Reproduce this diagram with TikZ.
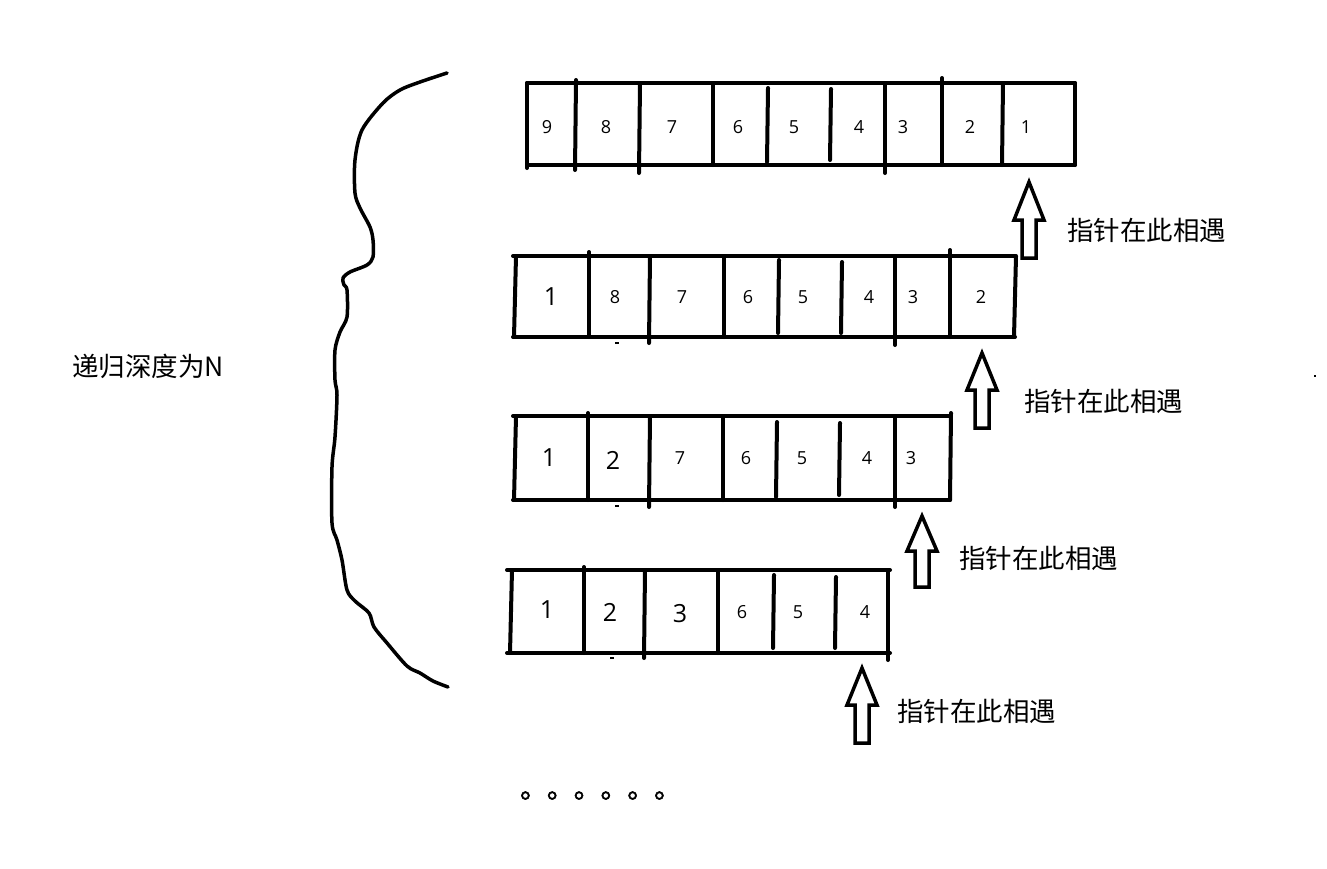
\documentclass[tikz,border=0pt]{standalone}
\usepackage{fontspec}
\newfontfamily\cjk{Noto Sans CJK SC}
\newfontfamily\cjkbold[FakeBold=2]{Noto Sans CJK SC}
\newfontfamily\digitfont{Open Sans}
\begin{document}
\begin{tikzpicture}[x=1pt,y=-1pt,
  bar/.style={line width=4pt,line cap=round},
  small/.style={font=\digitfont\fontsize{18}{18}\selectfont,inner sep=0pt},
  big/.style={font=\digitfont\fontsize{25}{25}\selectfont,inner sep=0pt},
  lbl/.style={font=\cjk\fontsize{26.5}{26.5}\selectfont,inner sep=0pt,anchor=west},
  hollow/.style={line width=3.5pt,line join=miter,fill=white},
  brace/.style={line width=3.5pt,line cap=round,line join=round}]
\useasboundingbox (0,0) rectangle (1327,868);

% ---------- row 1 ----------
\draw[bar] (527,83) -- (1075,83);
\draw[bar] (527,165) -- (1075,165);
\draw[bar] (527,83) -- (527,168);
\draw[bar] (576,80) -- (575,170);
\draw[bar] (640,83) -- (639,173);
\draw[bar] (713,83) -- (713,165);
\draw[bar] (768,88) -- (767,162);
\draw[bar] (831,89) -- (830,160);
\draw[bar] (885,83) -- (885,173);
\draw[bar] (942,78) -- (942,165);
\draw[bar] (1003,83) -- (1002,165);
\draw[bar] (1075,83) -- (1075,165);
\node[small] (r1a) at (547,127) {9};
\node[small] (r1b) at (606,127) {8};
\node[small] (r1c) at (672,127) {7};
\node[small] (r1d) at (738,127) {6};
\node[small] (r1e) at (794,127) {5};
\node[small] (r1f) at (859,127) {4};
\node[small] (r1g) at (903,127) {3};
\node[small] (r1h) at (970,127) {2};
\node[small] (r1i) at (1026,127) {1};

% ---------- row 2 ----------
\draw[bar] (513,256) -- (1015,256);
\draw[bar] (513,337) -- (1015,337);
\draw[bar] (516,256) -- (514,337);
\draw[bar] (589,252) -- (589,337);
\draw[bar] (650,256) -- (649,343);
\draw[bar] (724,256) -- (724,337);
\draw[bar] (779,260) -- (778,333);
\draw[bar] (842,262) -- (841,333);
\draw[bar] (895,256) -- (895,345);
\draw[bar] (950,250) -- (950,337);
\draw[bar] (1016,256) -- (1014,337);
\node[big] (r2a) at (551,297) {1};
\node[small] (r2b) at (615,297) {8};
\node[small] (r2c) at (682,297) {7};
\node[small] (r2d) at (748,297) {6};
\node[small] (r2e) at (803,297) {5};
\node[small] (r2f) at (869,297) {4};
\node[small] (r2g) at (913,297) {3};
\node[small] (r2h) at (981,297) {2};

% ---------- row 3 ----------
\draw[bar] (513,416) -- (950,416);
\draw[bar] (513,500) -- (950,500);
\draw[bar] (516,416) -- (514,500);
\draw[bar] (588,413) -- (588,500);
\draw[bar] (650,416) -- (649,507);
\draw[bar] (723,416) -- (723,500);
\draw[bar] (777,422) -- (776,497);
\draw[bar] (840,423) -- (839,495);
\draw[bar] (895,416) -- (895,507);
\draw[bar] (951,413) -- (950,500);
\node[big] (r3a) at (549,458) {1};
\node[big] (r3b) at (613,460) {2};
\node[small] (r3c) at (680,458) {7};
\node[small] (r3d) at (746,458) {6};
\node[small] (r3e) at (802,458) {5};
\node[small] (r3f) at (867,458) {4};
\node[small] (r3g) at (911,458) {3};

% ---------- row 4 ----------
\draw[bar] (507,570) -- (890,570);
\draw[bar] (507,653) -- (890,653);
\draw[bar] (512,570) -- (510,653);
\draw[bar] (584,567) -- (584,653);
\draw[bar] (645,570) -- (644,658);
\draw[bar] (718,570) -- (718,653);
\draw[bar] (774,575) -- (773,648);
\draw[bar] (836,577) -- (835,648);
\draw[bar] (888,570) -- (888,660);
\node[big] (r4a) at (547,610) {1};
\node[big] (r4b) at (610,612) {2};
\node[big] (r4c) at (680,614) {3};
\node[small] (r4d) at (742,612) {6};
\node[small] (r4e) at (798,612) {5};
\node[small] (r4f) at (865,612) {4};

% tiny pen marks
\fill (615,342) rectangle (619,344);
\fill (615,505) rectangle (619,507);
\fill (610,657) rectangle (614,659);
\fill (1314,375) rectangle (1316,377);

% ---------- arrows and labels ----------
\foreach \cx/\tip/\base/\bot/\name in {1029/182/220/258/a1, 982/353/390/428/a2, 922/516/551/587/a3, 862/668/705/743/a4}{
  \draw[hollow] (\cx,\tip) -- (\cx+15,\base) -- (\cx+7,\base) -- (\cx+7,\bot)
    -- (\cx-7,\bot) -- (\cx-7,\base) -- (\cx-15,\base) -- cycle;
  \coordinate (\name) at (\cx,\tip);
}
\node[lbl] (l1) at (1067,230) {指针在此相遇};
\node[lbl] (l2) at (1024,401) {指针在此相遇};
\node[lbl] (l3) at (959,558) {指针在此相遇};
\node[lbl] (l4) at (897,711) {指针在此相遇};

% ---------- brace ----------
\draw[brace] plot[smooth,tension=0.5] coordinates {
 (447,73) (420,82) (400,90) (383,103) (362,130) (355,160) (355,193) (360,208)
 (370,227) (373,240) (373,257) (367,265) (350,272) (343,278) (344,285) (347,290)
 (347,317) (340,332) (335,350) (335,380) (337,395) (335,437) (332,467) (332,523)
 (337,540) (342,560) (347,590) (355,601) (369,613) (374,627) (387,643) (407,666)
 (420,673) (433,681) (448,687)};
\node[lbl] (depth) at (72,366) {递归深度为N};

% ---------- ellipsis ----------
\node[font=\cjkbold\fontsize{26.8}{26.8}\selectfont,inner sep=0pt,anchor=base west] (dots) at (520,798) {。。。。。。};
\end{tikzpicture}
\end{document}
